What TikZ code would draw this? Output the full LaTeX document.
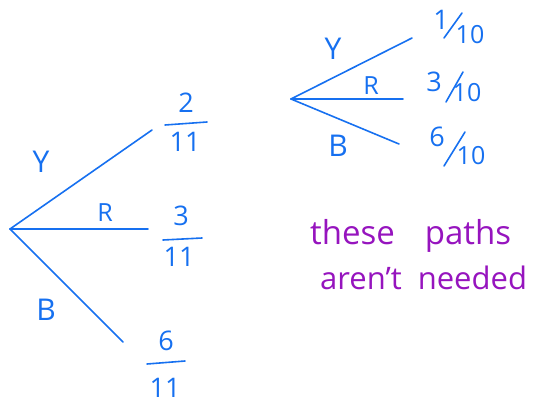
\documentclass[tikz,border=0pt]{standalone}
\usepackage{fontspec}
\setmainfont{Open Sans}
\definecolor{pen}{RGB}{22,112,240}
\definecolor{ink}{RGB}{150,20,190}
\tikzset{
  branch/.style={draw=pen, line width=1.6pt, line cap=round},
  lbl/.style={text=pen, font=\fontsize{30}{32}\selectfont, inner sep=0pt},
  smlbl/.style={text=pen, font=\fontsize{25}{27}\selectfont, inner sep=0pt},
  num/.style={text=pen, font=\fontsize{27}{29}\selectfont, inner sep=0pt},
  den/.style={text=pen, font=\fontsize{25}{27}\selectfont, inner sep=0pt},
  bar/.style={draw=pen, line width=1.6pt, line cap=round},
  note/.style={text=ink, font=\fontsize{33}{36}\selectfont, inner sep=0pt, anchor=base west},
  notesm/.style={text=ink, font=\fontsize{31}{34}\selectfont, inner sep=0pt, anchor=base west}
}
\begin{document}
\begin{tikzpicture}[x=1pt,y=-1pt]
\useasboundingbox (0,0) rectangle (535,404);
% left tree
\coordinate (L) at (10,229);
\coordinate (LY) at (152,130);
\coordinate (LR) at (148,229);
\coordinate (LB) at (123,342);
\draw[branch] (L) -- (LY);
\draw[branch] (L) -- (LR);
\draw[branch] (L) -- (LB);
\node[lbl] (ly) at (41,162) {Y};
\node[smlbl] (lr) at (105,213) {R};
\node[lbl] (lb) at (46,310) {B};
% left fractions
\node[num] (n1) at (186,103) {2};
\coordinate (b1a) at (165,125); \coordinate (b1b) at (207,122);
\draw[bar] (b1a) -- (b1b);
\node[num] (d1) at (185,142) {11};
\node[num] (n2) at (181,216) {3};
\coordinate (b2a) at (163,240); \coordinate (b2b) at (202,238);
\draw[bar] (b2a) -- (b2b);
\node[num] (d2) at (179,257) {11};
\node[num] (n3) at (166,341) {6};
\coordinate (b3a) at (147,364); \coordinate (b3b) at (185,361);
\draw[bar] (b3a) -- (b3b);
\node[num] (d3) at (165,388) {11};
% right tree
\coordinate (R) at (291,99);
\coordinate (RY) at (412,38);
\coordinate (RR) at (403,99);
\coordinate (RB) at (399,144);
\draw[branch] (R) -- (RY);
\draw[branch] (R) -- (RR);
\draw[branch] (R) -- (RB);
\node[lbl] (ry) at (333,49) {Y};
\node[smlbl] (rr) at (371,86) {R};
\node[lbl] (rb) at (338,146) {B};
% right fractions (slash style)
\node[num] (f1n) at (441,20) {1};
\coordinate (s1a) at (444,38); \coordinate (s1b) at (462,13);
\draw[bar] (s1a) -- (s1b);
\node[den] (f1d) at (470,35) {10};
\node[num] (f2n) at (434,82) {3};
\coordinate (s2a) at (446,102); \coordinate (s2b) at (463,72);
\draw[bar] (s2a) -- (s2b);
\node[den] (f2d) at (467,93) {10};
\node[num] (f3n) at (437,137) {6};
\coordinate (s3a) at (444,166); \coordinate (s3b) at (465,132);
\draw[bar] (s3a) -- (s3b);
\node[den] (f3d) at (471,156) {10};
% note
\node[note] (t1) at (310,244) {these\hspace{30pt}paths};
\node[notesm] (t2) at (320,289) {aren't\hspace{16pt}needed};
\end{tikzpicture}
\end{document}
